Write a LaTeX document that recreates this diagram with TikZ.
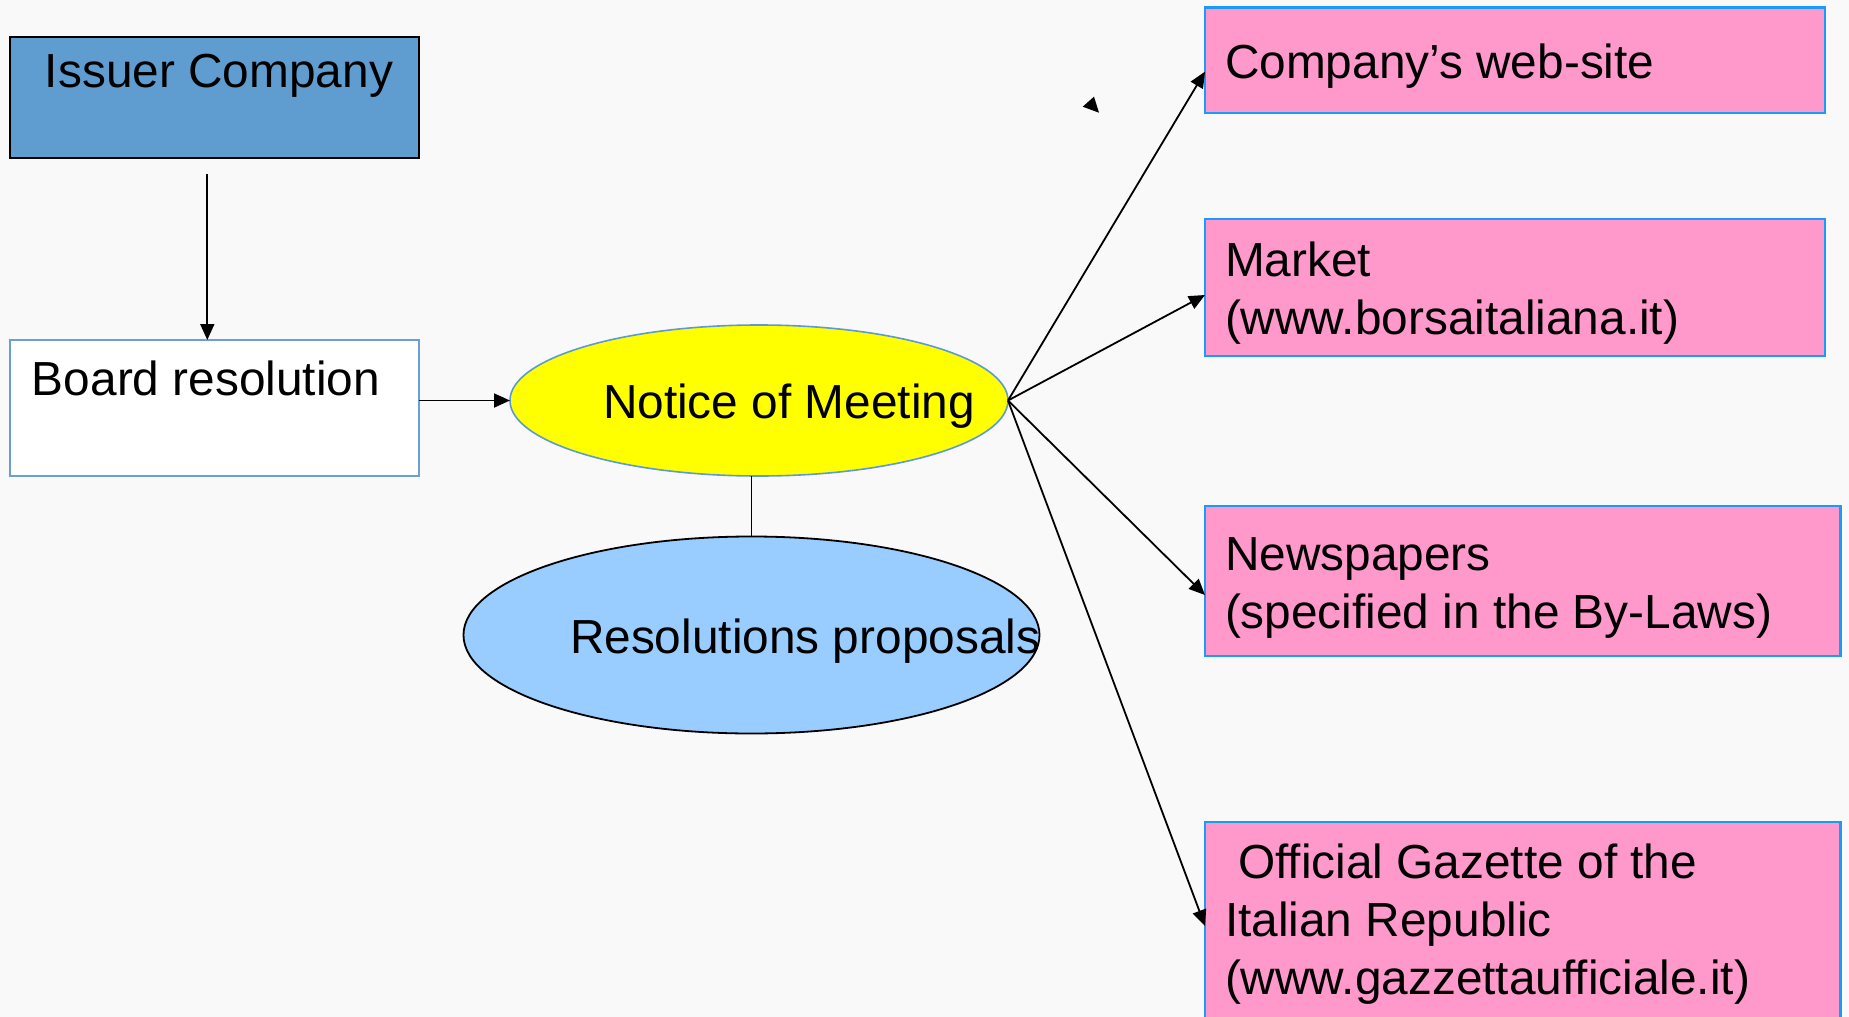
\documentclass[tikz,border=0pt]{standalone}
\usepackage{fontspec}
\setmainfont{Liberation Sans}
\usetikzlibrary{arrows.meta,shapes.geometric}

\definecolor{pagebg}{HTML}{F9F9F9}
\definecolor{issuerfill}{HTML}{5F9DD0}
\definecolor{boardline}{HTML}{6C9FD4}
\definecolor{noticefill}{HTML}{FFFF00}
\definecolor{noticeline}{HTML}{5B9BD5}
\definecolor{resolfill}{HTML}{99CCFF}
\definecolor{outfill}{HTML}{FF99CC}
\definecolor{outline}{HTML}{1A9BFC}

\tikzset{
  px/.style={x=0.5pt,y=-0.5pt},
  shapebox/.style={rectangle, inner sep=0pt, outer sep=0pt},
  issuerbox/.style={shapebox, draw=black, line width=1pt, fill=issuerfill},
  boardbox/.style={shapebox, draw=boardline, line width=0.8pt, fill=white},
  outbox/.style={shapebox, draw=outline, line width=1.2pt, fill=outfill},
  noticeell/.style={ellipse, inner sep=0pt, outer sep=0pt, draw=noticeline,
    line width=0.8pt, fill=noticefill},
  resolell/.style={ellipse, inner sep=0pt, outer sep=0pt, draw=black,
    line width=0.9pt, fill=resolfill},
  % multi-line texts are anchored at the baseline of their last line
  txt/.style={anchor=base west, inner sep=0pt, outer sep=0pt, align=left,
    font=\fontsize{23.9pt}{29pt}\selectfont},
  arr/.style={draw=black, line width=0.9pt, -{Triangle[length=8pt,width=7pt]}},
  plain/.style={draw=black, line width=0.9pt}
}

\begin{document}
\begin{tikzpicture}[px]
  % page area
  \clip (0,0) rectangle (1849,1017);
  \fill[pagebg] (0,0) rectangle (1849,1017);

  % left column
  \node[issuerbox, minimum width=204.5pt, minimum height=60.5pt] (issuer) at (214.5,97.5) {};
  \node[boardbox, minimum width=204.5pt, minimum height=68pt] (board) at (214.5,408) {};

  % centre ellipses
  \node[noticeell, minimum width=249pt, minimum height=75.5pt] (notice) at (759,400.5) {};
  \node[resolell, minimum width=288pt, minimum height=98.5pt] (resol) at (751.5,635) {};

  % publication channels
  \node[outbox, minimum width=310pt, minimum height=52.75pt] (web) at (1515,60.25) {};
  \node[outbox, minimum width=310pt, minimum height=68.5pt] (market) at (1515,287.5) {};
  \node[outbox, minimum width=317.75pt, minimum height=75pt] (news) at (1522.75,581) {};
  \node[outbox, minimum width=317.75pt, minimum height=104pt] (gazette) at (1522.75,926) {};

  % texts
  \node[txt] (issuer-t) at (45,87) {Issuer Company};
  \node[txt] (board-t) at (32,395) {Board resolution};
  \node[txt] (notice-t) at (603,418) {Notice of Meeting};
  \node[txt] (resol-t) at (570,653) {Resolutions proposals};
  \node[txt] (web-t) at (1225,78) {Company’s web-site};
  \node[txt] (market-t) at (1225,334) {Market\\(www.borsaitaliana.it)};
  \node[txt] (news-t) at (1225,628) {Newspapers\\(specified in the By-Laws)};
  \node[txt] (gazette-t) at (1225,994) {\ Official Gazette of the\\Italian Republic\\(www.gazzettaufficiale.it)};

  % connectors
  \draw[arr, shorten <=8pt] ([xshift=-3.6pt]issuer.south) -- ([xshift=-3.6pt]board.north);
  \draw[arr] (board.east |- notice.west) -- (notice.west);
  \draw[plain] (notice.south -| resol.north) -- (resol.north);
  \draw[arr] (notice.east) -- ([yshift=-5.7pt]web.west);
  \draw[arr] (notice.east) -- ([yshift=-3.75pt]market.west);
  \draw[arr] (notice.east) -- ([yshift=-7pt]news.west);
  \draw[arr] (notice.east) -- (gazette.west);

  % loose arrow tip
  \fill[black] (1082.7,106.7) -- (1094,96.7) -- (1099,112.7) -- cycle;
\end{tikzpicture}
\end{document}
